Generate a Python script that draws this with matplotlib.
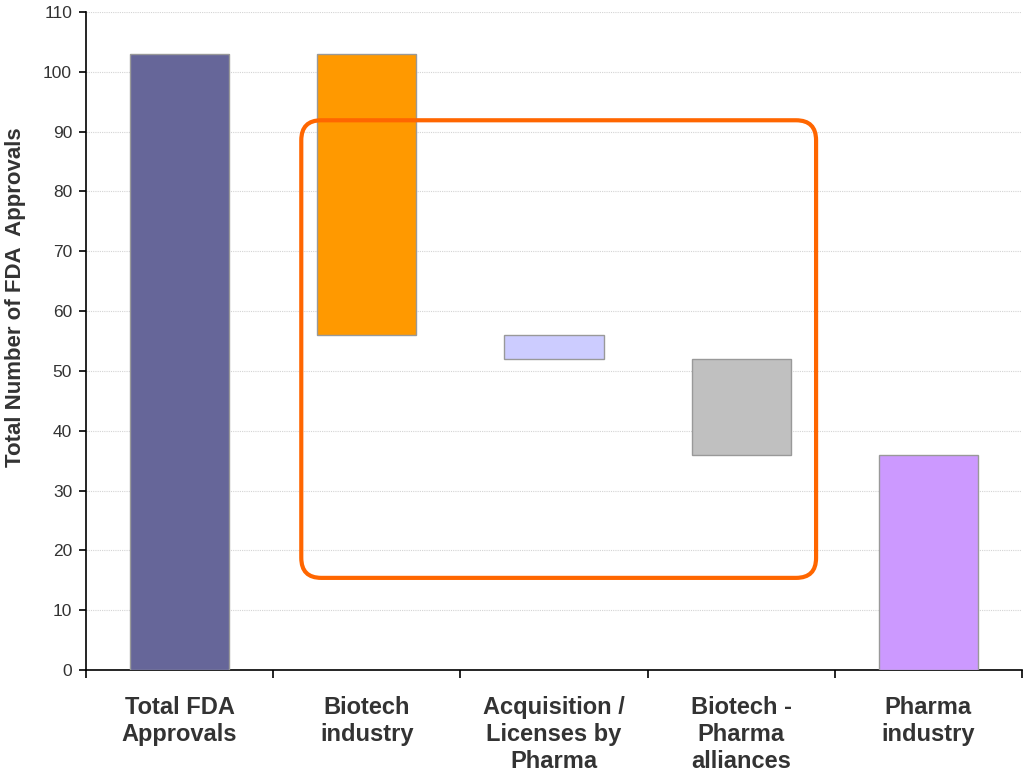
import matplotlib
matplotlib.use("Agg")
import matplotlib.pyplot as plt
from matplotlib.patches import FancyBboxPatch
from matplotlib.ticker import FixedLocator, MultipleLocator
import numpy as np

plt.rcParams["font.family"] = ["Liberation Sans", "DejaVu Sans"]

# Waterfall of FDA approvals by source
categories = [
    "Total FDA\nApprovals",
    "Biotech\nindustry",
    "Acquisition /\nLicenses by\nPharma",
    "Biotech -\nPharma\nalliances",
    "Pharma\nindustry",
]
steps = [103, -47, -4, -16, 36]  # first and last are totals, middle are drops
is_total = [True, False, False, False, True]
colors = ["#666699", "#FF9900", "#CCCCFF", "#C0C0C0", "#CC99FF"]

# highlight frame (data units)
frame_x = (0.65, 3.40)
frame_y = (15.4, 91.9)

heights, bottoms = [], []
level = 0
for step, total in zip(steps, is_total):
    if total:
        bottoms.append(0)
        heights.append(step)
        level = step
    else:
        new_level = level + step
        bottoms.append(min(level, new_level))
        heights.append(abs(step))
        level = new_level

fig = plt.figure(figsize=(10.27, 7.78), dpi=100)
ax = fig.add_axes([86 / 1027, 108 / 778, 936 / 1027, 658 / 778])

x = np.arange(len(categories))
ax.bar(x, heights, bottom=bottoms, width=0.53, color=colors,
       edgecolor="#999999", linewidth=1.0, zorder=3)

ax.set_xlim(-0.5, len(categories) - 0.5)
ax.set_ylim(0, 110)
ax.yaxis.set_major_locator(MultipleLocator(10))
ax.grid(axis="y", color="#D4D4D4", linestyle=(0, (1, 1)), linewidth=0.8, zorder=0)

for side in ("top", "right"):
    ax.spines[side].set_visible(False)
ax.spines["left"].set_linewidth(1.2)
ax.spines["bottom"].set_linewidth(1.2)

ax.set_xticks(x)
ax.set_xticklabels(categories, fontsize=17, fontweight="bold", color="#333333",
                   linespacing=1.22, va="top")
ax.tick_params(axis="x", which="major", length=0, pad=19)
ax.xaxis.set_minor_locator(FixedLocator(np.arange(-0.5, len(categories), 1.0)))
ax.tick_params(axis="x", which="minor", length=6, width=1.2, direction="out")
ax.tick_params(axis="y", length=5, width=1.2, labelsize=12.5, labelcolor="#333333", pad=5)

ax.set_ylabel("Total Number of FDA  Approvals", fontsize=16, fontweight="bold",
              color="#333333")
ax.yaxis.set_label_coords(-0.064, 0.567)

# rounded frame around the middle steps; correct corner shape for unequal scales
bbox = ax.get_position()
x_per_px = (len(categories)) / (bbox.width * fig.get_figwidth() * fig.dpi)
y_per_px = 110 / (bbox.height * fig.get_figheight() * fig.dpi)
aspect = y_per_px / x_per_px
radius = 20 * x_per_px
frame = FancyBboxPatch((frame_x[0], frame_y[0]), frame_x[1] - frame_x[0],
                       frame_y[1] - frame_y[0],
                       boxstyle=f"round,pad=0,rounding_size={radius}",
                       mutation_aspect=aspect, fill=False,
                       edgecolor="#FF6600", linewidth=3.0, zorder=5)
ax.add_patch(frame)

fig.savefig("out.png", dpi=100)
